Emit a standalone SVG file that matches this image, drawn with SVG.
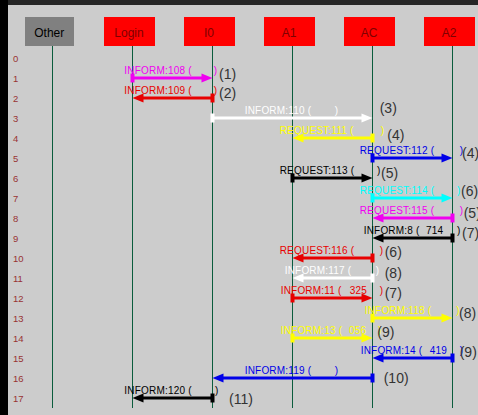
<svg xmlns="http://www.w3.org/2000/svg" width="478" height="415" viewBox="0 0 478 415">
<style>
text{font-family:"Liberation Sans",Arial,sans-serif}
.node rect{stroke:none}
.actor rect{fill:#ff0000}
.actor text{fill:#800000;font-size:12px;text-anchor:middle}
.other rect{fill:#808080}
.other text{fill:#000;font-size:12px;text-anchor:middle}
.life{stroke:#0a5c3c;stroke-width:1}
.rownum{fill:#993333;font-size:9.5px}
.arr line{stroke-width:3;fill:none}
.arr rect,.arr polygon{stroke:none}
.arr text{stroke:none;font-size:10px;letter-spacing:0.2px}
.seq{fill:#333;font-size:14px;stroke:none}
.mag{stroke:#f000f0;fill:#f000f0}
.red{stroke:#e80000;fill:#e80000}
.wht{stroke:#fff;fill:#fff}
.yel{stroke:#ffff00;fill:#ffff00}
.blu{stroke:#0000e8;fill:#0000e8}
.blk{stroke:#000;fill:#000}
.cyn{stroke:#00ffff;fill:#00ffff}
</style>
<rect x="0" y="0" width="478" height="415" fill="#cccccc"/>
<rect x="0" y="0" width="478" height="5" fill="#262626"/>
<rect x="0" y="0" width="8" height="415" fill="#000"/>

<g id="lifelines">
<line class="life" x1="52.5" y1="46" x2="52.5" y2="408"/>
<line class="life" x1="132.5" y1="46" x2="132.5" y2="408"/>
<line class="life" x1="212.5" y1="46" x2="212.5" y2="408"/>
<line class="life" x1="292.5" y1="46" x2="292.5" y2="408"/>
<line class="life" x1="372.5" y1="46" x2="372.5" y2="408"/>
<line class="life" x1="452.5" y1="46" x2="452.5" y2="408"/>
</g>

<g id="node-Other" class="node other"><rect x="25" y="17" width="49" height="29"/><text x="49.3" y="37">Other</text></g>
<g id="node-Login" class="node actor"><rect x="104" y="17" width="51" height="29"/><text x="129" y="37">Login</text></g>
<g id="node-I0" class="node actor"><rect x="184" y="17" width="51" height="29"/><text x="209" y="37">I0</text></g>
<g id="node-A1" class="node actor"><rect x="264" y="17" width="51" height="29"/><text x="289" y="37">A1</text></g>
<g id="node-AC" class="node actor"><rect x="344" y="17" width="51" height="29"/><text x="369" y="37">AC</text></g>
<g id="node-A2" class="node actor"><rect x="424" y="17" width="51" height="29"/><text x="449" y="37">A2</text></g>

<g id="row-numbers" class="rownum">
<text x="13" y="61.7">0</text>
<text x="13" y="81.7">1</text>
<text x="13" y="101.7">2</text>
<text x="13" y="121.7">3</text>
<text x="13" y="141.7">4</text>
<text x="13" y="161.7">5</text>
<text x="13" y="181.7">6</text>
<text x="13" y="201.7">7</text>
<text x="13" y="221.7">8</text>
<text x="13" y="241.7">9</text>
<text x="13" y="261.7">10</text>
<text x="13" y="281.7">11</text>
<text x="13" y="301.7">12</text>
<text x="13" y="321.7">13</text>
<text x="13" y="341.7">14</text>
<text x="13" y="361.7">15</text>
<text x="13" y="381.7">16</text>
<text x="13" y="401.7">17</text>
</g>

<g id="connectors">
<g class="arr mag"><line x1="132.5" y1="78" x2="202.5" y2="78"/><rect x="130.5" y="73.5" width="4" height="9"/><polygon points="212.5,78 201.5,73.5 201.5,82.5"/><text x="124.3" y="73.5">INFORM:108 (<tspan x="213.7">)</tspan></text></g>
<g class="arr red"><line x1="212.5" y1="98" x2="142.5" y2="98"/><rect x="210.5" y="93.5" width="4" height="9"/><polygon points="132.5,98 143.5,93.5 143.5,102.5"/><text x="124.3" y="93.5">INFORM:109 (<tspan x="213.7">)</tspan></text></g>
<g class="arr wht"><line x1="212.5" y1="118" x2="362.5" y2="118"/><rect x="210.5" y="113.5" width="4" height="9"/><polygon points="372.5,118 361.5,113.5 361.5,122.5"/><text x="244.7" y="113.5">INFORM:110 (<tspan x="334.7">)</tspan></text></g>
<g class="arr yel"><line x1="372.5" y1="138" x2="302.5" y2="138"/><rect x="370.5" y="133.5" width="4" height="9"/><polygon points="292.5,138 303.5,133.5 303.5,142.5"/><text x="279.7" y="133.5">REQUEST:111 (<tspan x="380.7">)</tspan></text></g>
<g class="arr blu"><line x1="372.5" y1="158" x2="442.5" y2="158"/><rect x="370.5" y="153.5" width="4" height="9"/><polygon points="452.5,158 441.5,153.5 441.5,162.5"/><text x="359.7" y="153.5">REQUEST:112 (<tspan x="459.7">)</tspan></text></g>
<g class="arr blk"><line x1="292.5" y1="178" x2="362.5" y2="178"/><rect x="290.5" y="173.5" width="4" height="9"/><polygon points="372.5,178 361.5,173.5 361.5,182.5"/><text x="279.7" y="173.5">REQUEST:113 (<tspan x="377">)</tspan></text></g>
<g class="arr cyn"><line x1="372.5" y1="198" x2="442.5" y2="198"/><rect x="370.5" y="193.5" width="4" height="9"/><polygon points="452.5,198 441.5,193.5 441.5,202.5"/><text x="359.7" y="193.5">REQUEST:114 (<tspan x="457">)</tspan></text></g>
<g class="arr mag"><line x1="452.5" y1="218" x2="382.5" y2="218"/><rect x="450.5" y="213.5" width="4" height="9"/><polygon points="372.5,218 383.5,213.5 383.5,222.5"/><text x="359.7" y="213.5">REQUEST:115 (<tspan x="459.7">)</tspan></text></g>
<g class="arr blk"><line x1="452.5" y1="238" x2="382.5" y2="238"/><rect x="450.5" y="233.5" width="4" height="9"/><polygon points="372.5,238 383.5,233.5 383.5,242.5"/><text x="363.7" y="233.5">INFORM:8 (<tspan x="426">714</tspan><tspan x="457">)</tspan></text></g>
<g class="arr red"><line x1="372.5" y1="258" x2="302.5" y2="258"/><rect x="370.5" y="253.5" width="4" height="9"/><polygon points="292.5,258 303.5,253.5 303.5,262.5"/><text x="279.7" y="253.5">REQUEST:116 (<tspan x="379.7">)</tspan></text></g>
<g class="arr wht"><line x1="372.5" y1="278" x2="302.5" y2="278"/><rect x="370.5" y="273.5" width="4" height="9"/><polygon points="292.5,278 303.5,273.5 303.5,282.5"/><text x="284.7" y="273.5">INFORM:117 (<tspan x="375.7">)</tspan></text></g>
<g class="arr red"><line x1="292.5" y1="298" x2="362.5" y2="298"/><rect x="290.5" y="293.5" width="4" height="9"/><polygon points="372.5,298 361.5,293.5 361.5,302.5"/><text x="280.7" y="293.5">INFORM:11 (<tspan x="349.7">325</tspan><tspan x="379.7">)</tspan></text></g>
<g class="arr yel"><line x1="372.5" y1="318" x2="442.5" y2="318"/><rect x="370.5" y="313.5" width="4" height="9"/><polygon points="452.5,318 441.5,313.5 441.5,322.5"/><text x="364.7" y="313.5">INFORM:118 (<tspan x="456.3">)</tspan></text></g>
<g class="arr yel"><line x1="292.5" y1="338" x2="362.5" y2="338"/><rect x="290.5" y="333.5" width="4" height="9"/><polygon points="372.5,338 361.5,333.5 361.5,342.5"/><text x="280.7" y="333.5">INFORM:13 (<tspan x="349">056</tspan><tspan x="378">)</tspan></text></g>
<g class="arr blu"><line x1="452.5" y1="358" x2="382.5" y2="358"/><rect x="450.5" y="353.5" width="4" height="9"/><polygon points="372.5,358 383.5,353.5 383.5,362.5"/><text x="360.7" y="353.5">INFORM:14 (<tspan x="429.7">419</tspan><tspan x="459.7">)</tspan></text></g>
<g class="arr blu"><line x1="372.5" y1="378" x2="222.5" y2="378"/><rect x="370.5" y="373.5" width="4" height="9"/><polygon points="212.5,378 223.5,373.5 223.5,382.5"/><text x="244.7" y="373.5">INFORM:119 (<tspan x="334.7">)</tspan></text></g>
<g class="arr blk"><line x1="212.5" y1="398" x2="142.5" y2="398"/><rect x="210.5" y="393.5" width="4" height="9"/><polygon points="132.5,398 143.5,393.5 143.5,402.5"/><text x="124.3" y="393.5">INFORM:120 (<tspan x="215">)</tspan></text></g>
</g>

<g id="sequence-labels" class="seq">
<text x="219" y="78.7">(1)</text>
<text x="219" y="97.7">(2)</text>
<text x="379.7" y="113.4">(3)</text>
<text x="387.3" y="139.7">(4)</text>
<text x="462" y="158">(4)</text>
<text x="381" y="177.7">(5)</text>
<text x="461" y="196.4">(6)</text>
<text x="463.7" y="217.9">(5)</text>
<text x="462" y="237.9">(7)</text>
<text x="384.7" y="256.7">(6)</text>
<text x="384.7" y="277.7">(8)</text>
<text x="384.7" y="298.2">(7)</text>
<text x="459" y="317.7">(8)</text>
<text x="377.3" y="337">(9)</text>
<text x="459.7" y="357">(9)</text>
<text x="383.7" y="383.4">(10)</text>
<text x="229" y="403.7">(11)</text>
</g>
</svg>
